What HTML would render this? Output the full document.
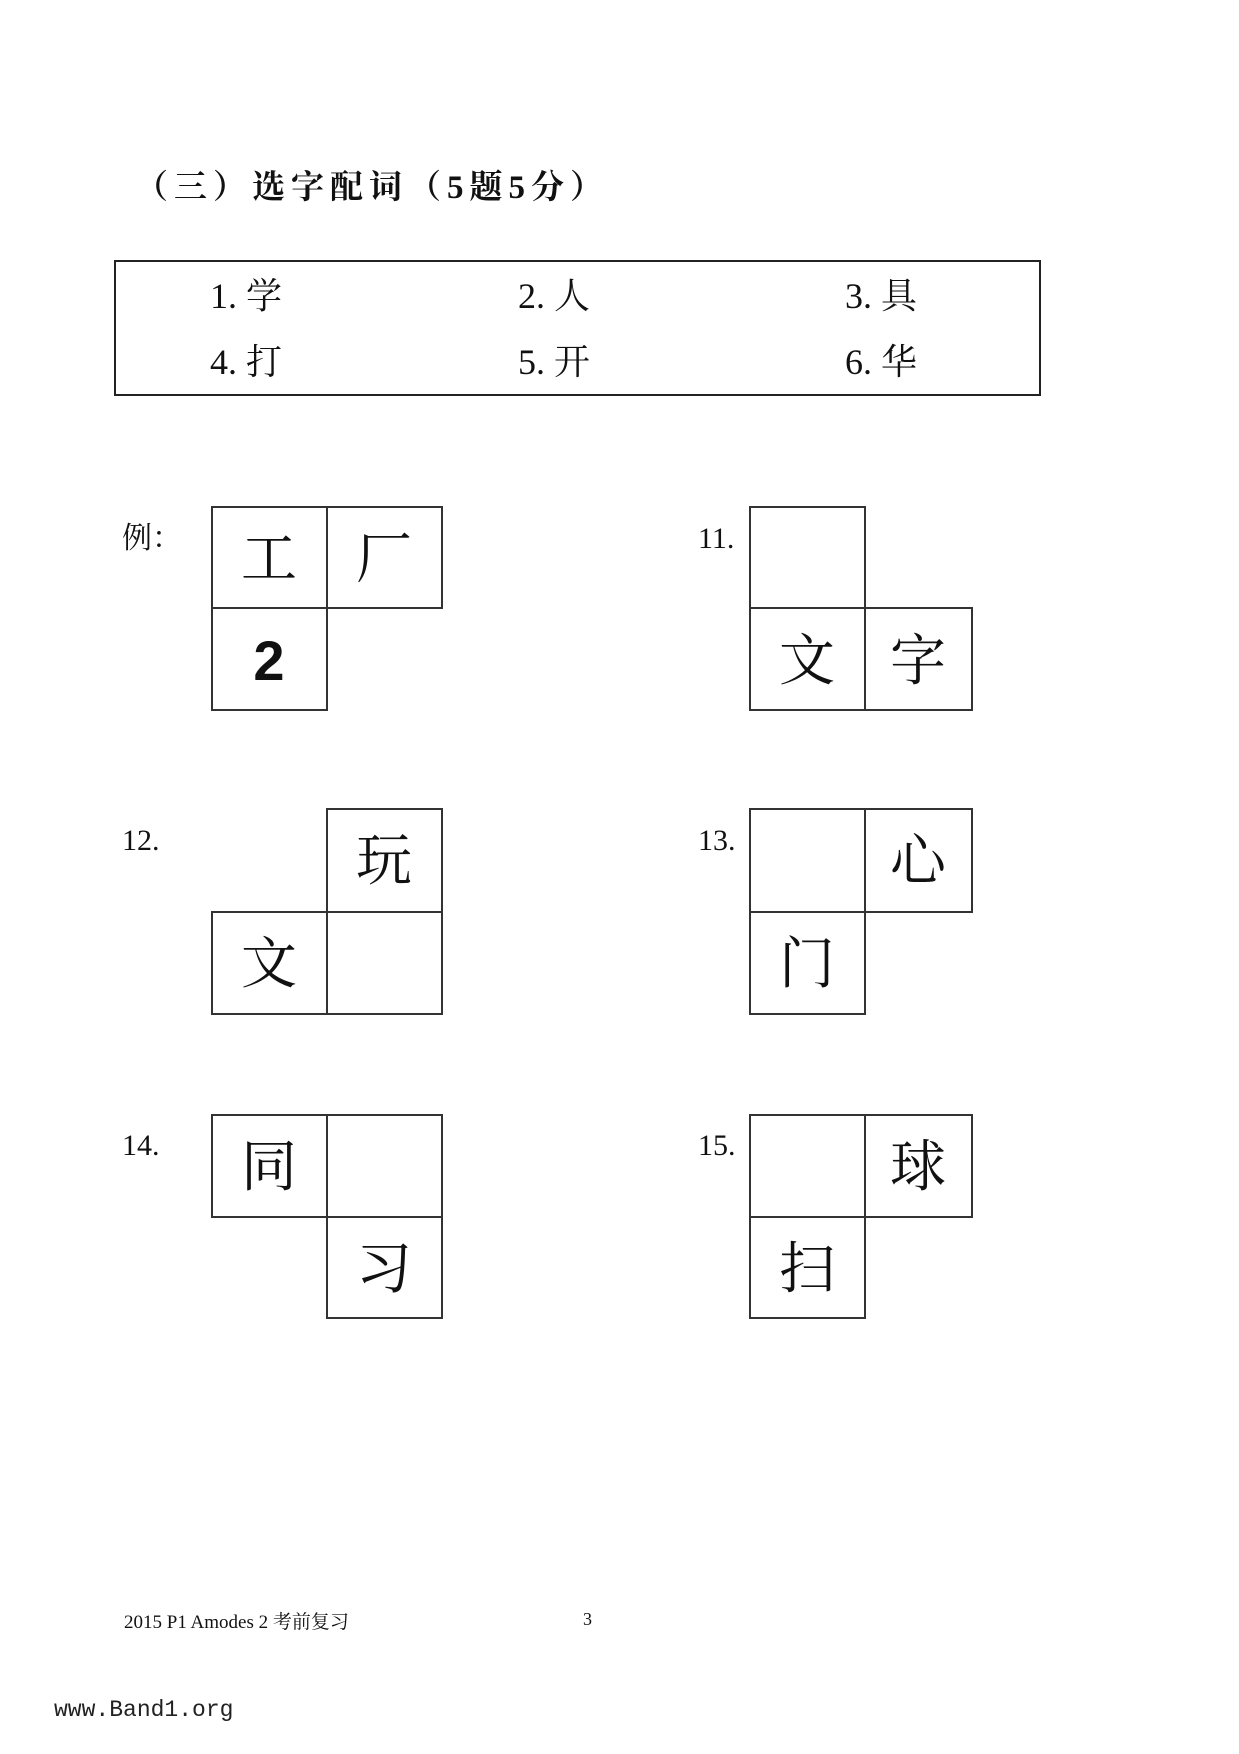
<!DOCTYPE html>
<html><head><meta charset="utf-8"><style>
body{margin:0;background:#fff;}
svg{display:block}
.s{font-family:"Liberation Serif","Noto Serif CJK SC",serif;fill:#111}
</style></head><body>
<svg width="1239" height="1754" viewBox="0 0 1239 1754" xmlns="http://www.w3.org/2000/svg">
<text class="s" x="135" y="198" font-size="33" font-weight="bold" letter-spacing="6">（三）选字配词（5题5分）</text>
<rect x="115" y="261" width="925" height="134" fill="none" stroke="#222" stroke-width="2"/>
<g class="s" font-size="36">
<text x="210" y="308">1. 学</text><text x="518" y="308">2. 人</text><text x="845" y="308">3. 具</text>
<text x="210" y="374">4. 打</text><text x="518" y="374">5. 开</text><text x="845" y="374">6. 华</text>
</g>
<g class="s" font-size="30">
<text x="122" y="548">例：</text>
<text x="698" y="548">11.</text>
<text x="122" y="850">12.</text>
<text x="698" y="850">13.</text>
<text x="122" y="1155">14.</text>
<text x="698" y="1155">15.</text>
</g>
<g fill="none" stroke="#333" stroke-width="2">
<rect x="212" y="507" width="115" height="101"/><rect x="327" y="507" width="115" height="101"/><rect x="212" y="608" width="115" height="102"/>
<rect x="750" y="507" width="115" height="101"/><rect x="750" y="608" width="115" height="102"/><rect x="865" y="608" width="107" height="102"/>
<rect x="327" y="809" width="115" height="103"/><rect x="212" y="912" width="115" height="102"/><rect x="327" y="912" width="115" height="102"/>
<rect x="750" y="809" width="115" height="103"/><rect x="865" y="809" width="107" height="103"/><rect x="750" y="912" width="115" height="102"/>
<rect x="212" y="1115" width="115" height="102"/><rect x="327" y="1115" width="115" height="102"/><rect x="327" y="1217" width="115" height="101"/>
<rect x="750" y="1115" width="115" height="102"/><rect x="865" y="1115" width="107" height="102"/><rect x="750" y="1217" width="115" height="101"/>
</g>
<g class="s" font-size="56" text-anchor="middle">
<text x="269" y="578">工</text><text x="384" y="578">厂</text>
<text x="269" y="680" font-family="Liberation Sans" font-weight="bold">2</text>
<text x="807" y="680">文</text><text x="918" y="680">字</text>
<text x="384" y="880">玩</text><text x="269" y="983">文</text>
<text x="918" y="880">心</text><text x="807" y="983">门</text>
<text x="269" y="1186">同</text><text x="384" y="1288">习</text>
<text x="918" y="1186">球</text><text x="807" y="1288">扫</text>
</g>
<text class="s" x="124" y="1628" font-size="19">2015 P1 Amodes 2 考前复习</text>
<text class="s" x="583" y="1625" font-size="18">3</text>
<text x="54" y="1716" font-family="Liberation Mono,monospace" font-size="23" fill="#222">www.Band1.org</text>
</svg>
</body></html>
